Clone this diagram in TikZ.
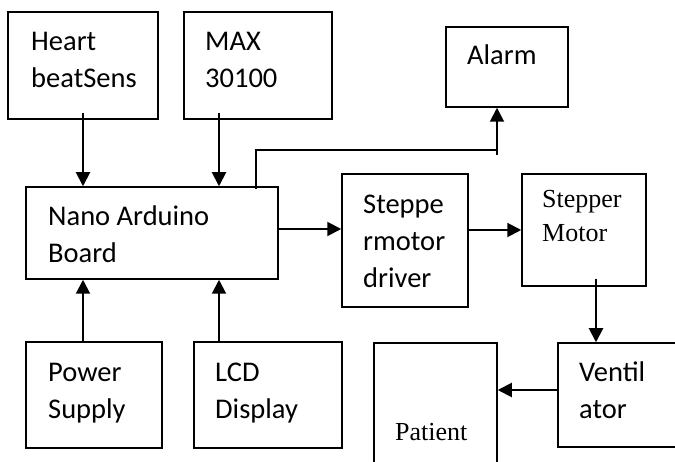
\documentclass[tikz,border=0pt]{standalone}
\usepackage{fontspec}
\setmainfont{Carlito}
\newfontfamily\timesfont{Liberation Serif}
\usetikzlibrary{arrows.meta}
\begin{document}
\begin{tikzpicture}[x=1pt,y=-1pt,
  box/.style={draw,line width=1.5pt,inner sep=0pt,minimum width=#1},
  box/.default=100pt,
  lbl/.style={anchor=base west,inner sep=0pt,align=left,font=\fontsize{28.5}{37}\selectfont},
  serif/.style={anchor=base west,inner sep=0pt,align=left,font=\timesfont\fontsize{26}{34}\selectfont},
  arr/.style={line width=2pt,-{Triangle[length=14pt,width=14pt]}}]
\clip (0,0) rectangle (675,462);
\fill[white] (0,0) rectangle (675,462);
% boxes
\node[box=150pt,minimum height=107pt] (heart) at (83,65.5) {};
\node[box=148pt,minimum height=107pt] (max) at (258,65.5) {};
\node[box=122pt,minimum height=80pt] (alarm) at (507,67) {};
\node[box=252pt,minimum height=92pt] (nano) at (152,233) {};
\node[box=126pt,minimum height=133pt] (driver) at (405,240.5) {};
\node[box=124pt,minimum height=112pt] (motor) at (584,230) {};
\node[box=136pt,minimum height=106pt] (power) at (94,395) {};
\node[box=148pt,minimum height=106pt] (lcd) at (268,395) {};
\node[box=123pt,minimum height=127pt] (patient) at (435.5,406.5) {};
\node[box=132pt,minimum height=104pt] (vent) at (624,395) {};
% texts (anchor = baseline of last line)
\node[lbl] (theart) at (31,88) {Heart\\beatSens};
\node[lbl] (tmax) at (205,88) {MAX\\30100};
\node[lbl] (talarm) at (467,65) {Alarm};
\node[lbl] (tnano) at (48,263) {Nano Arduino\\Board};
\node[lbl] (tdriver) at (363,288) {Steppe\\rmotor\\driver};
\node[serif] (tmotor) at (542,242) {Stepper\\Motor};
\node[lbl] (tpower) at (48,418) {Power\\Supply};
\node[lbl] (tlcd) at (215,418) {LCD\\Display};
\node[lbl] (tvent) at (579,418) {Ventil\\ator};
\node[serif] (tpatient) at (395,440) {Patient};
% connectors
\draw[arr] ([yshift=7pt]heart.south) -- (heart.south |- nano.north);
\draw[arr] ([xshift=-39pt,yshift=7pt]max.south) -- ([xshift=-39pt]max.south |- nano.north);
\draw[arr] ([xshift=-11pt]power.north) -- ([xshift=-11pt]power.north |- nano.south);
\draw[arr] ([xshift=-49pt]lcd.north) -- ([xshift=-49pt]lcd.north |- nano.south);
\draw[arr] ([yshift=4pt]nano.east) -- ([yshift=4pt]nano.east -| driver.west);
\draw[arr] ([yshift=10.5pt]driver.east) -- ([yshift=10.5pt]driver.east -| motor.west);
\draw[arr] ([xshift=12pt,yshift=8pt]motor.south) -- ([xshift=12pt]motor.south |- vent.north);
\draw[arr] ([yshift=5pt]vent.west) -- ([yshift=5pt]vent.west -| patient.east);
\coordinate (turn) at (497,150);
\coordinate (tail) at (497,155);
\draw[line width=2pt] ([xshift=104pt,yshift=-3pt]nano.north) |- (turn);
\draw[arr] (tail) -- ([xshift=-10pt]alarm.south);
\end{tikzpicture}
\end{document}
